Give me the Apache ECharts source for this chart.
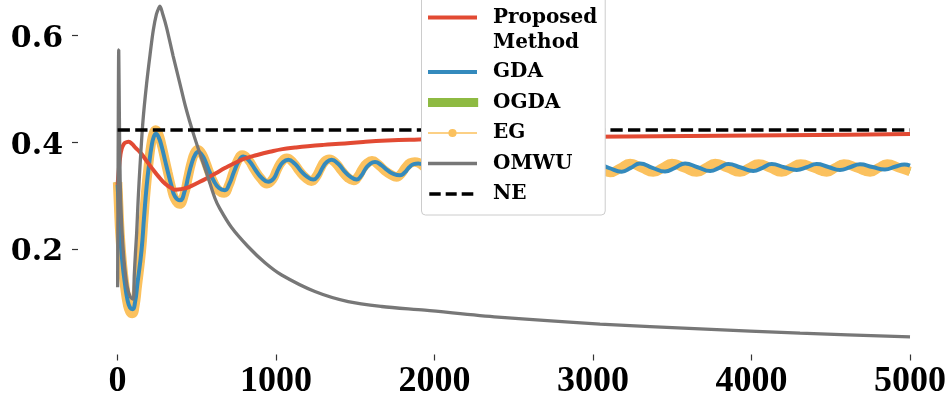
<!DOCTYPE html>
<html>
<head>
<meta charset="utf-8">
<script src="https://cdn.jsdelivr.net/npm/echarts@6/dist/echarts.min.js"></script>
<style>
html,body{margin:0;padding:0;background:#fff;}
#chart{width:949px;height:404px;}
</style>
</head>
<body>
<div id="chart"></div>
<script>
// ---- tick labels ----
const xTicks = [0, 1000, 2000, 3000, 4000, 5000];
const yTicks = [0.2, 0.4, 0.6];

// ---- Proposed Method ----
const propIters = [0, 8, 16, 25, 40, 55, 70, 90, 115, 145, 180, 220, 260, 300, 340, 365, 400, 450, 500, 560, 620, 680, 740, 800, 880, 960, 1040, 1120, 1200, 1300, 1400, 1550, 1700, 1900, 2100, 2400, 2700, 3000, 3400, 3800, 4200, 4600, 5000];
const propVals = [0.320, 0.350, 0.372, 0.387, 0.397, 0.400, 0.401, 0.397, 0.389, 0.380, 0.366, 0.350, 0.335, 0.322, 0.314, 0.311, 0.312, 0.316, 0.323, 0.332, 0.342, 0.352, 0.361, 0.369, 0.376, 0.382, 0.387, 0.390, 0.3925, 0.395, 0.397, 0.4005, 0.403, 0.405, 0.4065, 0.408, 0.409, 0.410, 0.411, 0.412, 0.413, 0.414, 0.4155];

// ---- GDA ----
const gdaIters = [0, 7, 15, 30, 46, 62, 78, 95, 110, 125, 151, 167, 183, 200, 214, 228, 242, 258, 278, 300, 319, 340, 362, 393, 425, 445, 467, 490, 509, 530, 551, 578, 604, 640, 677, 705, 735, 765, 793, 830, 870, 910, 950, 985, 1015, 1045, 1077, 1117, 1157, 1197, 1235, 1265, 1293, 1320, 1350, 1390, 1430, 1470, 1508, 1537, 1566, 1595, 1624, 1664, 1704, 1744, 1782, 1811, 1840, 1868, 1897, 1978, 2060, 2118, 2177, 2258, 2340, 2398, 2457, 2538, 2620, 2678, 2737, 2818, 2900, 2958, 3017, 3099, 3181, 3238, 3296, 3375, 3454, 3517, 3581, 3660, 3739, 3796, 3853, 3932, 4011, 4069, 4127, 4206, 4285, 4348, 4411, 4485, 4558, 4621, 4684, 4763, 4842, 4905, 4965, 5000];
const gdaVals = [0.320, 0.275, 0.229, 0.175, 0.135, 0.105, 0.090, 0.087, 0.100, 0.135, 0.198, 0.260, 0.317, 0.362, 0.392, 0.410, 0.416, 0.410, 0.392, 0.365, 0.342, 0.318, 0.298, 0.291, 0.310, 0.335, 0.360, 0.377, 0.382, 0.377, 0.366, 0.346, 0.329, 0.314, 0.310, 0.322, 0.345, 0.365, 0.373, 0.365, 0.348, 0.333, 0.326, 0.332, 0.350, 0.363, 0.367, 0.360, 0.346, 0.335, 0.330, 0.337, 0.352, 0.363, 0.367, 0.360, 0.346, 0.335, 0.330, 0.337, 0.351, 0.360, 0.363, 0.357, 0.347, 0.340, 0.338, 0.343, 0.353, 0.359, 0.360, 0.351, 0.341, 0.350, 0.360, 0.352, 0.342, 0.351, 0.360, 0.352, 0.343, 0.351, 0.360, 0.352, 0.344, 0.352, 0.360, 0.352, 0.3447, 0.352, 0.360, 0.352, 0.345, 0.352, 0.360, 0.353, 0.346, 0.352, 0.359, 0.3525, 0.346, 0.352, 0.359, 0.353, 0.348, 0.353, 0.359, 0.3535, 0.348, 0.353, 0.3585, 0.3535, 0.349, 0.354, 0.358, 0.356];

// ---- EG ----
const egIters = [0, 7, 15, 30, 46, 62, 78, 93, 108, 123, 149, 165, 181, 198, 212, 226, 240, 256, 276, 298, 317, 338, 360, 390, 422, 442, 464, 486, 505, 526, 547, 574, 600, 636, 672, 700, 730, 760, 786, 823, 863, 903, 942, 977, 1007, 1037, 1067, 1107, 1147, 1187, 1222, 1252, 1280, 1307, 1335, 1375, 1415, 1455, 1490, 1518, 1547, 1576, 1605, 1645, 1685, 1725, 1760, 1789, 1818, 1846, 1875, 1952, 2030, 2090, 2150, 2225, 2300, 2360, 2420, 2495, 2570, 2631, 2692, 2766, 2840, 2902, 2963, 3035, 3107, 3170, 3234, 3307, 3380, 3439, 3498, 3576, 3654, 3712, 3771, 3849, 3927, 3986, 4045, 4117, 4190, 4250, 4310, 4392, 4474, 4528, 4583, 4665, 4748, 4802, 4856, 4930, 5000];
const egVals = [0.325, 0.277, 0.228, 0.170, 0.128, 0.097, 0.082, 0.079, 0.092, 0.128, 0.195, 0.258, 0.318, 0.365, 0.397, 0.417, 0.423, 0.417, 0.397, 0.368, 0.343, 0.316, 0.294, 0.284, 0.304, 0.331, 0.360, 0.380, 0.386, 0.381, 0.369, 0.347, 0.328, 0.310, 0.305, 0.318, 0.344, 0.367, 0.376, 0.368, 0.349, 0.332, 0.322, 0.330, 0.349, 0.364, 0.370, 0.362, 0.346, 0.333, 0.327, 0.335, 0.351, 0.364, 0.368, 0.361, 0.346, 0.333, 0.328, 0.336, 0.351, 0.361, 0.365, 0.358, 0.347, 0.339, 0.335, 0.341, 0.353, 0.361, 0.363, 0.350, 0.338, 0.349, 0.361, 0.350, 0.340, 0.350, 0.361, 0.351, 0.341, 0.351, 0.360, 0.351, 0.342, 0.351, 0.360, 0.352, 0.343, 0.351, 0.360, 0.352, 0.344, 0.352, 0.360, 0.352, 0.344, 0.352, 0.360, 0.352, 0.344, 0.352, 0.359, 0.352, 0.344, 0.352, 0.359, 0.352, 0.344, 0.352, 0.359, 0.352, 0.344, 0.352, 0.359, 0.352, 0.345];

// ---- OGDA (runs underneath EG, visible only at its edges) ----
const ogdaIters = egIters.slice();
const ogdaVals = egVals.slice();

// ---- OMWU ----
const omwuIters = [0, 3, 7, 11, 16, 25, 40, 60, 80, 98, 105, 112, 120, 130, 141, 160, 183, 205, 225, 245, 260, 267, 285, 309, 350, 393, 430, 477, 520, 562, 614, 646, 719, 824, 930, 1035, 1245, 1455, 1666, 1939, 2400, 3044, 3675, 4306, 5000];
const omwuVals = [0.128, 0.350, 0.573, 0.450, 0.330, 0.250, 0.180, 0.130, 0.110, 0.106, 0.150, 0.190, 0.229, 0.295, 0.354, 0.440, 0.510, 0.565, 0.610, 0.640, 0.652, 0.655, 0.640, 0.615, 0.562, 0.510, 0.465, 0.417, 0.378, 0.342, 0.295, 0.275, 0.240, 0.204, 0.174, 0.151, 0.120, 0.101, 0.092, 0.085, 0.072, 0.059, 0.050, 0.042, 0.035];

// ---- NE ----
const neIters = [0, 5000];
const neVals = [0.423, 0.423];

function pairs(xs, ys) { return xs.map((x, i) => [x, ys[i]]); }

const FONT = 'DejaVu Serif';
const chart = echarts.init(document.getElementById('chart'), null, {renderer: 'canvas'});

const option = {
  backgroundColor: '#ffffff',
  animation: false,
  grid: {left: 78, right: 0, top: 0, bottom: 49.5, containLabel: false, outerBoundsMode: 'none'},
  xAxis: {
    type: 'value', min: -250, max: 5246,
    axisLine: {show: false, onZero: false},
    splitLine: {show: false},
    axisTick: {show: true, length: 6, customValues: xTicks, lineStyle: {color: '#333', width: 1.2}},
    axisLabel: {customValues: xTicks, margin: 9, fontFamily: 'Liberation Serif', fontWeight: 'bold', fontSize: 36, color: '#000',
      formatter: v => String(Math.round(v))}
  },
  yAxis: {
    type: 'value', min: 0.002, max: 0.6666,
    axisLine: {show: false, onZero: false},
    splitLine: {show: false},
    axisTick: {show: true, length: 6, customValues: yTicks, lineStyle: {color: '#333', width: 1.2}},
    axisLabel: {customValues: yTicks, margin: 15, color: '#000',
      formatter: v => '{v|' + v.toFixed(1) + '}',
      rich: {v: {fontFamily: FONT, fontWeight: 'bold', fontSize: 30, color: '#000', padding: [7, 0, 0, 0]}}}
  },
  legend: {
    orient: 'vertical', left: 421.5, top: -26,
    itemWidth: 60, itemHeight: 14, itemGap: 3.5,
    padding: [6, 8, 7.5, 6.5],
    backgroundColor: '#ffffff', borderColor: '#cccccc', borderWidth: 1, borderRadius: 4,
    selectedMode: false,
    itemStyle: {borderWidth: 0},
    textStyle: {fontFamily: FONT, fontWeight: 'bold', fontSize: 20, color: '#000', lineHeight: 27},
    formatter: name => name === 'Proposed Method' ? '\nProposed\nMethod' : name,
    data: [
      {name: 'Proposed Method', icon: 'path://M0,0M60,14M0,5h49v4h-49z', textStyle: {lineHeight: 25}},
      {name: 'GDA', icon: 'path://M0,0M60,14M0,5h49v4h-49z'},
      {name: 'OGDA', icon: 'path://M0,0M60,14M-1,2.5h51v9h-51z'},
      {name: 'EG', icon: 'path://M0,0M60,14M0,6.3h49v1.4h-49zM28.6,7a4.1,4.1 0 1,1 -8.2,0a4.1,4.1 0 1,1 8.2,0z'},
      {name: 'OMWU', icon: 'path://M0,0M60,14M0,5.2h49v3.6h-49z'},
      {name: 'NE', icon: 'path://M0,0M60,14M1.3,5.2h11.4v3.6h-11.4zM17.7,5.2h11v3.6h-11zM33.7,5.2h11.6v3.6h-11.6z'}
    ]
  },
  series: [
    {name: 'OGDA', type: 'line', data: pairs(ogdaIters, ogdaVals), showSymbol: false, symbol: 'none', smooth: 0.5,
      color: '#8EBA42', lineStyle: {width: 8, color: '#8EBA42'}},
    {name: 'EG', type: 'line', data: pairs(egIters, egVals), showSymbol: false, symbol: 'none', smooth: 0.5,
      color: '#FBC15E', lineStyle: {width: 9.5, color: '#FBC15E'}},
    {name: 'GDA', type: 'line', data: pairs(gdaIters, gdaVals), showSymbol: false, symbol: 'none', smooth: 0.5,
      color: '#348ABD', lineStyle: {width: 4, color: '#348ABD'}},
    {name: 'Proposed Method', type: 'line', data: pairs(propIters, propVals), showSymbol: false, symbol: 'none', smooth: 0.5,
      color: '#E24A33', lineStyle: {width: 4, color: '#E24A33'}},
    {name: 'OMWU', type: 'line', data: pairs(omwuIters, omwuVals), showSymbol: false, symbol: 'none', smooth: 0.3,
      color: '#777777', lineStyle: {width: 3.3, color: '#777777'}},
    {name: 'NE', type: 'line', data: pairs(neIters, neVals), showSymbol: false, symbol: 'none',
      color: '#000000', lineStyle: {width: 3.5, color: '#000000', type: [12.3, 5.3]}}
  ]
};
chart.setOption(option);
</script>
</body>
</html>
